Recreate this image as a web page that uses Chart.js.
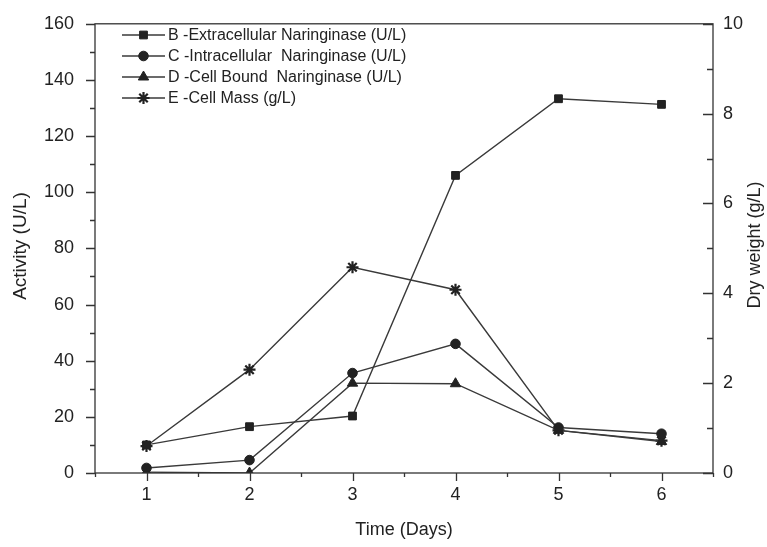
<!DOCTYPE html>
<html>
<head>
<meta charset="utf-8">
<script src="https://cdn.jsdelivr.net/npm/chart.js@4/dist/chart.umd.min.js"></script>
<style>
  html, body { margin: 0; padding: 0; background: #fff; }
  #wrap { width: 767px; height: 547px; }
</style>
</head>
<body>
<div id="wrap"><canvas id="chart" width="767" height="547"></canvas></div>
<script>
// DATA
const days = [1, 2, 3, 4, 5, 6];
const extracellular = [10, 16.5, 20.3, 106, 133.3, 131.3];
const intracellular = [1.8, 4.6, 35.6, 46, 16.2, 14];
const cellBound = [0.3, 0, 32, 31.8, 15.2, 11.2];
const cellMass = [0.6, 2.3, 4.58, 4.08, 0.95, 0.72];

const seriesLabels = [
    "B -Extracellular Naringinase (U/L)",
    "C -Intracellular  Naringinase (U/L)",
    "D -Cell Bound  Naringinase (U/L)",
    "E -Cell Mass (g/L)"
];

const xTicks = [1, 2, 3, 4, 5, 6];
const leftTicks = [0, 20, 40, 60, 80, 100, 120, 140, 160];
const rightTicks = [0, 2, 4, 6, 8, 10];

const INK = "#222";
const LINE = "#3a3a3a";
const FONT = "'Liberation Sans', Arial, sans-serif";

function pts(vals) {
    return days.map((d, i) => ({ x: d, y: vals[i] }));
}

function series(label, vals, style, radius, axis) {
    return {
        label: label,
        data: pts(vals),
        yAxisID: axis,
        borderColor: LINE,
        borderWidth: 1.4,
        pointStyle: style,
        pointRadius: radius,
        pointBorderWidth: style === "star" ? 2.2 : 1,
        pointBackgroundColor: INK,
        pointBorderColor: INK,
        tension: 0
    };
}

// axes: frame, ticks (major + minor), titles, legend
const axesPlugin = {
    id: "axesPlugin",
    afterDatasetsDraw(chart) {
        const ctx = chart.ctx;
        const a = chart.chartArea;
        const sx = chart.scales.x, sy = chart.scales.y, sr = chart.scales.y1;
        ctx.save();
        ctx.strokeStyle = "#333";
        ctx.lineWidth = 1.3;
        ctx.strokeRect(a.left, a.top, a.right - a.left, a.bottom - a.top);

        ctx.beginPath();
        // left axis, outward ticks
        for (let v = 0; v <= 160; v += 10) {
            const y = Math.round(sy.getPixelForValue(v)) + 0.5;
            const len = v % 20 === 0 ? 9 : 5;
            ctx.moveTo(a.left - len, y);
            ctx.lineTo(a.left, y);
        }
        // right axis, inward ticks
        for (let v = 0; v <= 10; v += 1) {
            const y = Math.round(sr.getPixelForValue(v)) + 0.5;
            const len = v % 2 === 0 ? 10 : 6;
            ctx.moveTo(a.right - len, y);
            ctx.lineTo(a.right, y);
        }
        // bottom axis, outward ticks
        for (let v = 0.5; v <= 6.5; v += 0.5) {
            const x = Math.round(sx.getPixelForValue(v)) + 0.5;
            const len = Number.isInteger(v) ? 8 : 4;
            ctx.moveTo(x, a.bottom);
            ctx.lineTo(x, a.bottom + len);
        }
        ctx.stroke();

        // titles
        ctx.fillStyle = INK;
        ctx.textAlign = "center";
        ctx.textBaseline = "middle";
        ctx.font = "19px " + FONT;
        ctx.save();
        ctx.translate(21, 246);
        ctx.rotate(-Math.PI / 2);
        ctx.fillText("Activity (U/L)", 0, 0);
        ctx.restore();

        ctx.font = "18px " + FONT;
        ctx.save();
        ctx.translate(755, 245);
        ctx.rotate(-Math.PI / 2);
        ctx.fillText("Dry weight (g/L)", 0, 0);
        ctx.restore();

        ctx.fillText("Time (Days)", (a.left + a.right) / 2, 530);

        // legend inside plot
        ctx.textAlign = "left";
        ctx.font = "16px " + FONT;
        chart.data.datasets.forEach((ds, i) => {
            const y = 35 + i * 21;
            ctx.strokeStyle = LINE;
            ctx.lineWidth = 1.4;
            ctx.beginPath();
            ctx.moveTo(a.left + 27, y);
            ctx.lineTo(a.left + 70, y);
            ctx.stroke();
            ctx.fillStyle = INK;
            ctx.strokeStyle = INK;
            ctx.lineWidth = ds.pointBorderWidth;
            Chart.helpers.drawPoint(ctx, {
                pointStyle: ds.pointStyle,
                radius: ds.pointRadius,
                rotation: 0,
                borderWidth: ds.pointBorderWidth
            }, a.left + 48.5, y);
            ctx.fillStyle = INK;
            ctx.fillText(ds.label, a.left + 73, y + 1);
        });
        ctx.restore();
    }
};

const tickFont = { family: FONT, size: 18 };

new Chart(document.getElementById("chart"), {
    type: "line",
    data: {
        datasets: [
            series(seriesLabels[0], extracellular, "rect", 5.5, "y"),
            series(seriesLabels[1], intracellular, "circle", 4.8, "y"),
            series(seriesLabels[2], cellBound, "triangle", 6, "y"),
            series(seriesLabels[3], cellMass, "star", 6, "y1")
        ]
    },
    options: {
        responsive: false,
        animation: false,
        layout: { padding: { top: 17, left: 0, right: 0, bottom: 0 } },
        plugins: {
            legend: { display: false },
            tooltip: { enabled: false }
        },
        scales: {
            x: {
                type: "linear",
                min: 0.5,
                max: 6.5,
                afterBuildTicks: s => { s.ticks = xTicks.map(v => ({ value: v })); },
                afterFit: s => { s.height = 74; },
                grid: { display: false },
                border: { display: false },
                ticks: { font: tickFont, color: INK, padding: 3, maxRotation: 0 }
            },
            y: {
                position: "left",
                min: 0,
                max: 160,
                afterBuildTicks: s => { s.ticks = leftTicks.map(v => ({ value: v })); },
                afterFit: s => { s.width = 95; },
                grid: { display: false },
                border: { display: false },
                ticks: { font: tickFont, color: INK, padding: 13 }
            },
            y1: {
                position: "right",
                min: 0,
                max: 10,
                afterBuildTicks: s => { s.ticks = rightTicks.map(v => ({ value: v })); },
                afterFit: s => { s.width = 54; },
                grid: { display: false },
                border: { display: false },
                ticks: { font: tickFont, color: INK, padding: 2 }
            }
        }
    },
    plugins: [axesPlugin]
});
</script>
</body>
</html>
